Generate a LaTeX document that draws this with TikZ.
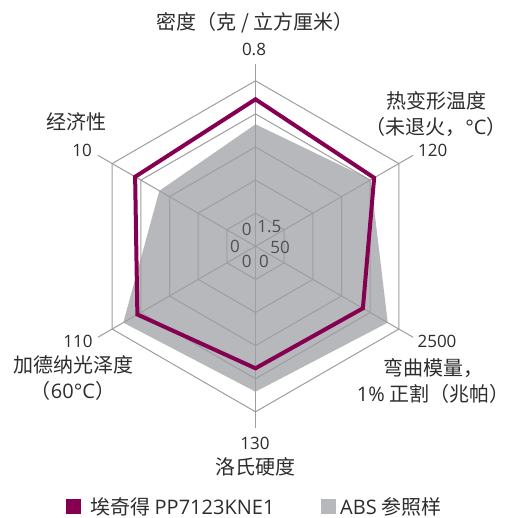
\documentclass[tikz,border=0pt]{standalone}
\usepackage{fontspec}
\setmainfont{Noto Sans CJK SC}
\newfontfamily\lat{Open Sans}
\usetikzlibrary{calc}
\definecolor{purp}{RGB}{134,0,82}
\definecolor{absgray}{RGB}{183,184,188}
\definecolor{gridc}{RGB}{158,158,160}
\definecolor{txt}{RGB}{45,45,45}
\definecolor{ctxt}{RGB}{80,80,80}
\begin{document}
\begin{tikzpicture}[x=1pt,y=1pt,
  lab/.style={text=txt,font=\fontsize{20}{26}\selectfont,align=center,inner sep=0pt},
  num/.style={text=txt,font=\lat\fontsize{17}{20}\selectfont,inner sep=0pt},
  cnum/.style={text=ctxt,font=\lat\fontsize{17}{20}\selectfont,inner sep=0pt},
  gridline/.style={draw=gridc,line width=1pt},
  series/.style={draw=purp,line width=4pt,line join=miter},
  legsq/.style={minimum size=15pt,inner sep=0pt}]
\useasboundingbox[fill=white] (0,0) rectangle (510,518);
\coordinate (C) at (255.5,271.7);
% ABS reference area
\fill[absgray,shift={(C)}] (90:122) -- (30:133) -- (-30:152.7) -- (-90:145.4) -- (210:152.7) -- (150:111) -- cycle;
% grid rings
\foreach \r in {33.1,66.2,99.3,132.4,165.5}
  \draw[gridline,shift={(C)}] (90:\r) -- (30:\r) -- (-30:\r) -- (-90:\r) -- (210:\r) -- (150:\r) -- cycle;
% axes
\foreach \a in {90,30,-30,-90,210,150}
  \draw[gridline] (C) -- ($(C)+(\a:182)$);
% product series
\draw[series,shift={(C)}] (90:147) -- (30:137) -- (-30:124) -- (-90:122) -- (210:136.4) -- (150:139) -- cycle;
% centre numbers
\node[cnum] (c1) at (246.7,288.7) {0};
\node[cnum] (c2) at (269.3,291.3) {1.5};
\node[cnum] (c3) at (235,271.3) {0};
\node[cnum] (c4) at (280,270.3) {50};
\node[cnum] (c5) at (246.7,257) {0};
\node[cnum] (c6) at (264,257) {0};
% axis labels
\node[lab] (t1) at (255,495) {密度（克 / 立方厘米）};
\node[num] (n1) at (254,469) {0.8};
\node[lab] (t2) at (436,404.3) {热变形温度\\（未退火，{\lat °C}）};
\node[num] (n2) at (432.7,368) {120};
\node[lab] (t3) at (433,137.5) {弯曲模量，\\{\lat 1\%} 正割（兆帕）};
\node[num] (n3) at (437,177) {2500};
\node[lab] (t4) at (255,51) {洛氏硬度};
\node[num] (n4) at (255,75) {130};
\node[lab] (t5) at (73,140) {加德纳光泽度\\（{\lat 60°C}）};
\node[num] (n5) at (78,177) {110};
\node[lab] (t6) at (76,396) {经济性};
\node[num] (n6) at (82,368) {10};
% legend
\node[legsq,fill=purp] (sqa) at (73,11) {};
\node[lab,anchor=west] (la) at (90,11) {埃奇得 {\lat PP7123KNE1}};
\node[legsq,fill=absgray] (sqb) at (328,11) {};
\node[lab,anchor=west] (lb) at (340,11) {{\lat ABS} 参照样};
\end{tikzpicture}
\end{document}
